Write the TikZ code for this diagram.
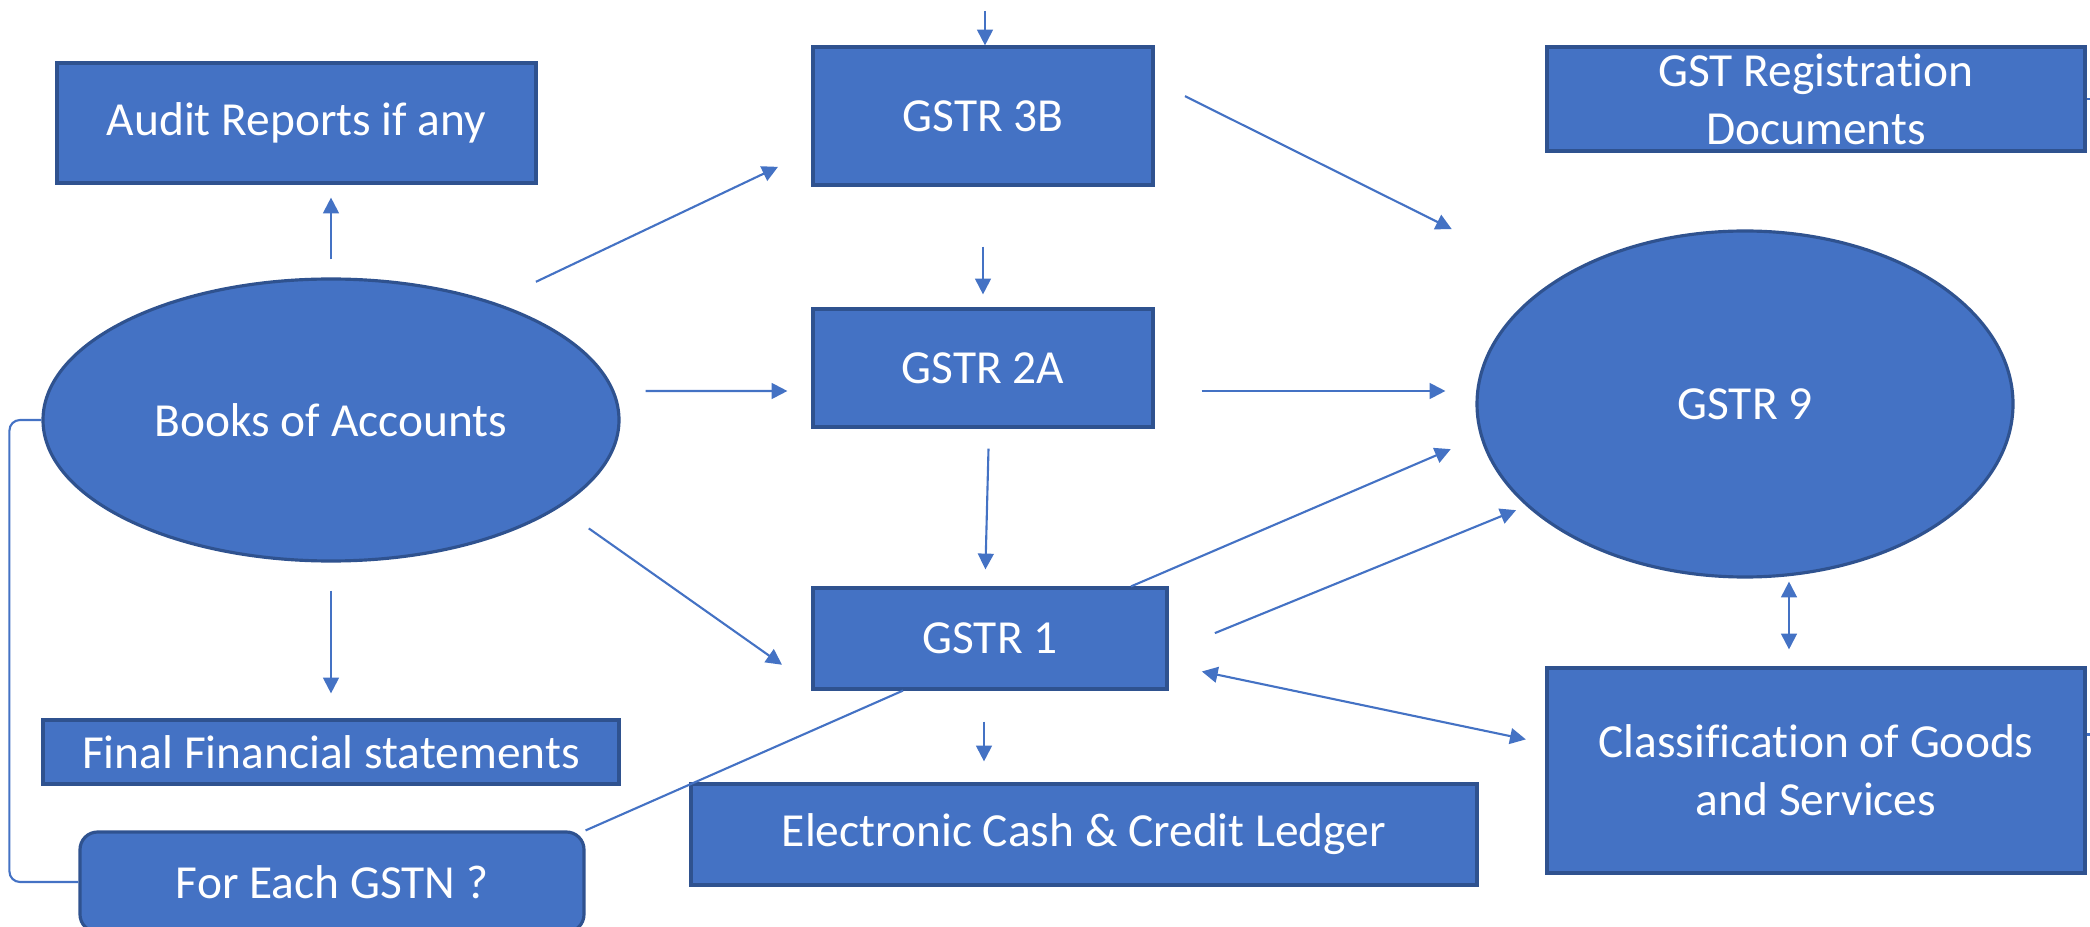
\documentclass[tikz,border=0pt]{standalone}
\usepackage{fontspec}
\setmainfont{Carlito}[Ligatures=NoCommon]
\usetikzlibrary{arrows.meta,shapes.geometric}
\definecolor{officeblue}{HTML}{4472C4}
\definecolor{officeedge}{HTML}{2F528F}
\tikzset{
  block/.style={rectangle, fill=officeblue, draw=officeedge, line width=0.9pt,
                text=white, align=center, inner sep=0pt},
  oval/.style={ellipse, fill=officeblue, draw=officeedge, line width=0.9pt,
               text=white, align=center, inner sep=0pt},
  flow/.style={draw=officeblue, line width=0.6pt}
}

\begin{document}
\begin{tikzpicture}[>={Triangle[length=4.5pt,width=4.5pt]},
                    font=\fontsize{13.5}{16.5}\selectfont]
        \useasboundingbox (0,0) rectangle (20.9,-9.27);
        \clip (0,0) rectangle (20.9,-9.27);

        % --- Accounts side
        \node[block, minimum width=4.79cm, minimum height=1.2cm] (audit) at (2.965,-1.23) {Audit Reports if any};
        \node[oval, minimum width=5.76cm, minimum height=2.82cm] (books) at (3.31,-4.20) {Books of Accounts};
        \node[block, minimum width=5.76cm, minimum height=0.64cm] (final) at (3.31,-7.52) {Final Financial statements};
        \node[block, rounded corners=5pt, minimum width=5.04cm, minimum height=1.0cm] (foreach) at (3.32,-8.82) {For Each GSTN ?};

        % --- Returns
        \node[block, minimum width=3.40cm, minimum height=1.38cm] (gstrthreeb) at (9.83,-1.16) {GSTR 3B};
        \node[block, minimum width=3.40cm, minimum height=1.18cm] (gstrtwoa) at (9.83,-3.68) {GSTR 2A};
        \node[block, minimum width=3.54cm, minimum height=1.01cm] (gstrone) at (9.90,-6.385) {GSTR 1};
        \node[block, minimum width=7.86cm, minimum height=1.01cm] (ledger) at (10.84,-8.345) {Electronic Cash \& Credit Ledger};

        % --- Annual return
        \node[block, minimum width=5.38cm, minimum height=1.04cm] (gstreg) at (18.16,-0.99) {GST Registration\\Documents};
        \node[oval, minimum width=5.36cm, minimum height=3.46cm] (gstrnine) at (17.45,-4.04) {GSTR 9};
        \node[block, minimum width=5.38cm, minimum height=2.05cm] (classif) at (18.16,-7.705) {Classification of Goods\\and Services};

        % --- Flows out of the books
        \coordinate (feed) at (9.85,-0.11);
        \draw[flow, ->] (feed) -- (feed |- gstrthreeb.north);
        \draw[flow, ->, shorten <=0.18cm, shorten >=0.13cm] (books.north) -- (books.north |- audit.south);
        \draw[flow, ->, shorten <=0.28cm, shorten >=0.25cm] (books.south) -- (final.north);
        \draw[flow, ->, shorten <=0.47cm, shorten >=0.37cm] (books.36) -- ([yshift=-0.35cm]gstrthreeb.west);
        \draw[flow, ->, shorten <=0.25cm, shorten >=0.24cm] ([yshift=0.29cm]books.east) -- ([yshift=-0.23cm]gstrtwoa.west);
        \draw[flow, ->, shorten <=0.36cm, shorten >=0.36cm] (books.-21) -- ([yshift=-0.47cm]gstrone.west);

        % --- Between the returns
        \draw[flow, ->, shorten <=0.60cm, shorten >=0.13cm] (gstrthreeb.south) -- (gstrtwoa.north);
        \draw[flow, ->, shorten <=0.20cm, shorten >=0.17cm] ([xshift=0.06cm]gstrtwoa.south) -- ([xshift=-0.05cm]gstrone.north);
        \draw[flow, ->, shorten <=0.31cm, shorten >=0.21cm] ([xshift=-0.06cm]gstrone.south) -- ([xshift=-0.06cm]gstrone.south |- ledger.north);

        % --- Into GSTR 9
        \draw[flow, ->, shorten <=0.34cm, shorten >=1.15cm] ([yshift=0.35cm]gstrthreeb.east) -- (gstrnine.147);
        \draw[flow, ->, shorten <=0.47cm, shorten >=0.30cm] ([yshift=-0.23cm]gstrtwoa.east) -- ([yshift=0.13cm]gstrnine.west);
        \draw[flow, ->, shorten >=0.32cm] ([xshift=1.41cm]gstrone.north) -- (gstrnine.187);
        \draw[flow, ->, shorten <=0.50cm, shorten >=0.11cm] ([yshift=-0.135cm]gstrone.east) -- (gstrnine.205);

        % --- Classification both ways
        \draw[flow, <->, shorten <=0.17cm, shorten >=0.03cm] ([xshift=-0.27cm]classif.north) -- ([xshift=-0.27cm]classif.north |- gstrnine.south);
        \draw[flow, <->, shorten <=0.34cm, shorten >=0.20cm] ([yshift=-0.26cm]gstrone.east) -- ([yshift=0.27cm]classif.west);

        % --- GSTN links
        \draw[flow] (foreach.north east) -- ([xshift=-0.87cm]gstrone.south);
        \draw[flow, rounded corners=3pt] (books.west) -| ([xshift=-0.69cm]foreach.west) -- (foreach.west);
        \draw[flow] (gstreg.east) -- ++(0.2,0);
        \draw[flow] ([yshift=0.36cm]classif.east) -- ++(0.2,0);

\end{tikzpicture}
\end{document}
